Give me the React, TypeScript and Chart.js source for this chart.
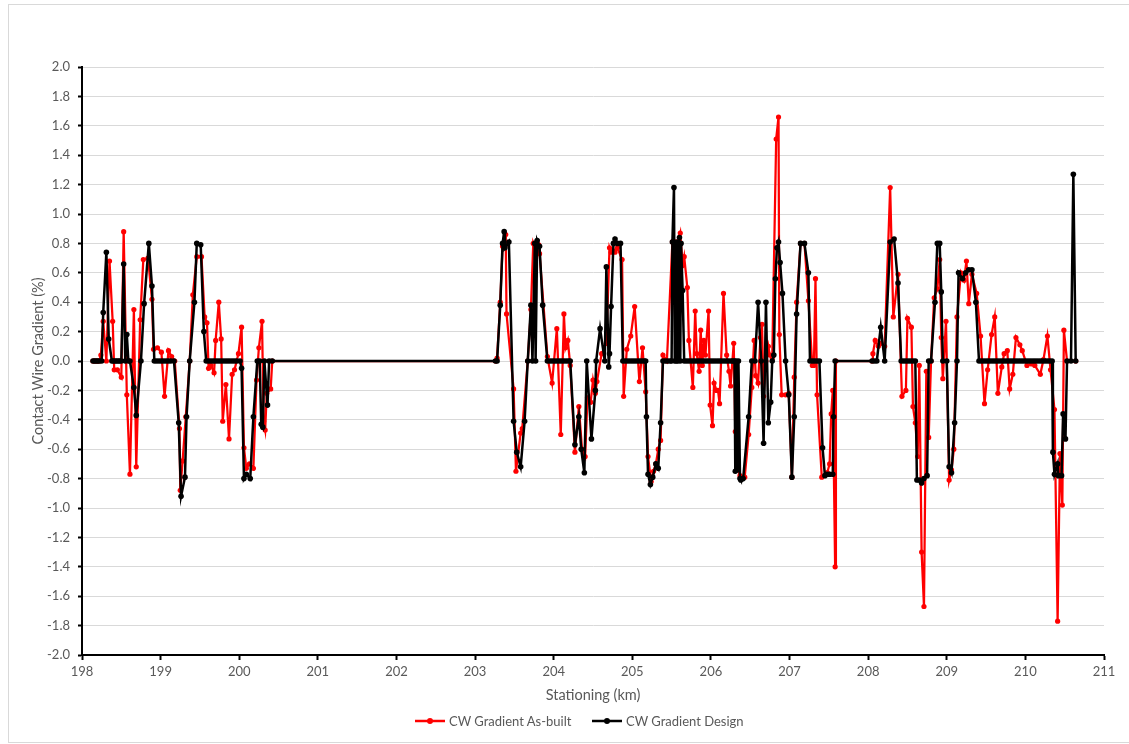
import React, { useEffect, useRef } from "react";
import { Chart, registerables } from "chart.js";

Chart.register(...registerables);

// ---- Data (km stationing, gradient %) ----
const asBuiltKm = [
  198.14, 198.16, 198.18, 198.20, 198.22, 198.24, 198.27, 198.31, 198.35, 198.39,
  198.41, 198.45, 198.50, 198.53, 198.57, 198.61, 198.66, 198.69, 198.74, 198.78,
  198.84, 198.89, 198.91, 198.96, 199.01, 199.05, 199.10, 199.14, 199.18, 199.24,
  199.25, 199.28, 199.32, 199.37, 199.41, 199.46, 199.52, 199.56, 199.59, 199.61,
  199.64, 199.68, 199.70, 199.74, 199.77, 199.79, 199.83, 199.87, 199.91, 199.94,
  199.99, 200.03, 200.06, 200.09, 200.13, 200.18, 200.22, 200.25, 200.29, 200.31,
  200.33, 200.35, 200.40, 200.42,
  203.26, 203.28, 203.32, 203.35, 203.38, 203.39, 203.40, 203.49, 203.52, 203.58,
  203.60, 203.67, 203.71, 203.74, 203.77, 203.81, 203.82, 203.92, 203.98, 204.04,
  204.09, 204.13, 204.15, 204.18, 204.21, 204.27, 204.32, 204.36, 204.40, 204.43,
  204.47, 204.50, 204.53, 204.55, 204.61, 204.67, 204.71, 204.73, 204.76, 204.78,
  204.81, 204.87, 204.89, 204.93, 204.98, 205.03, 205.09, 205.13, 205.17, 205.20,
  205.24, 205.27, 205.30, 205.33, 205.36, 205.39, 205.44, 205.51, 205.55, 205.57,
  205.61, 205.64, 205.66, 205.70, 205.72, 205.77, 205.80, 205.82, 205.85, 205.87,
  205.89, 205.91, 205.93, 205.97, 205.99, 206.02, 206.04, 206.07, 206.09, 206.11,
  206.16, 206.20, 206.23, 206.25, 206.29, 206.31, 206.33, 206.37, 206.43, 206.48,
  206.52, 206.55, 206.57, 206.60, 206.63, 206.65, 206.67, 206.70, 206.73, 206.75,
  206.78, 206.83, 206.86, 206.87, 206.90, 206.95, 206.99, 207.03, 207.06, 207.09,
  207.14, 207.19, 207.24, 207.29, 207.31, 207.33, 207.35, 207.41, 207.48, 207.51,
  207.53, 207.55, 207.58, 207.59,
  208.05, 208.06, 208.09, 208.13, 208.16, 208.21, 208.28, 208.32, 208.38, 208.43,
  208.48, 208.50, 208.55, 208.57, 208.60, 208.63, 208.65, 208.68, 208.71, 208.74,
  208.77, 208.80, 208.84, 208.88, 208.91, 208.93, 208.95, 208.99, 209.03, 209.06,
  209.09, 209.13, 209.18, 209.22, 209.25, 209.28, 209.32, 209.38, 209.43, 209.48,
  209.52, 209.57, 209.61, 209.65, 209.70, 209.73, 209.77, 209.80, 209.84, 209.88,
  209.93, 209.96, 210.02, 210.08, 210.12, 210.19, 210.23, 210.28, 210.32, 210.37,
  210.41, 210.44, 210.47, 210.49, 210.53, 210.64,
];
const asBuiltGrad = [
  0, 0, 0, 0, 0, 0.04, 0.27, 0, 0.68, 0.27,
  -0.06, -0.06, -0.11, 0.88, -0.23, -0.77, 0.35, -0.72, 0.28, 0.69,
  0.70, 0.42, 0.08, 0.09, 0.06, -0.24, 0.07, 0.03, 0, -0.46,
  -0.88, -0.68, -0.38, 0, 0.45, 0.71, 0.71, 0.30, 0.26, -0.05,
  -0.03, -0.08, 0.14, 0.40, 0.15, -0.41, -0.16, -0.53, -0.09, -0.06,
  0.05, 0.23, -0.59, -0.73, -0.70, -0.73, -0.13, 0.09, 0.27, -0.41,
  -0.47, -0.22, -0.19, 0,
  0, 0.02, 0.40, 0.78, 0.78, 0.86, 0.32, -0.19, -0.75, -0.49,
  -0.46, 0, 0.35, 0.80, 0.75, 0.79, 0.73, 0.03, -0.15, 0.22,
  -0.50, 0.32, 0.09, 0.14, -0.03, -0.62, -0.31, -0.60, -0.65, -0.25,
  -0.28, -0.13, -0.22, -0.14, 0.05, 0.12, 0.77, 0.74, 0.75, 0.74,
  0.77, 0.69, -0.24, 0.08, 0.17, 0.37, -0.14, 0.09, -0.21, -0.65,
  -0.82, -0.75, -0.70, -0.60, -0.54, 0.04, 0, 0.81, 0.81, 0.79,
  0.87, 0.65, 0.71, 0.50, 0.14, -0.18, 0.34, 0.05, -0.07, 0.21,
  -0.03, 0.14, 0.04, 0.34, -0.30, -0.44, -0.15, -0.20, -0.20, -0.29,
  0.46, 0.04, -0.07, -0.17, 0.12, -0.48, -0.72, -0.78, -0.79, -0.50,
  -0.18, 0.14, -0.10, -0.15, 0.16, 0.25, -0.24, 0, 0.10, 0.04,
  0.02, 1.51, 1.66, 0.18, -0.23, -0.23, -0.22, -0.79, -0.11, 0.40,
  0.80, 0.80, 0.41, -0.03, -0.03, 0.56, -0.23, -0.79, -0.76, -0.70,
  -0.36, -0.20, -1.40, 0,
  0, 0.05, 0.14, 0.10, 0.12, 0.10, 1.18, 0.30, 0.59, -0.24,
  -0.20, 0.29, 0.23, -0.31, -0.42, -0.65, -0.03, -1.30, -1.67, -0.07,
  -0.52, 0, 0.43, 0.49, 0.69, 0.16, -0.12, 0.27, -0.81, -0.74,
  -0.60, 0.30, 0.60, 0.55, 0.68, 0.39, 0.59, 0.46, 0.17, -0.29,
  -0.06, 0.18, 0.30, -0.22, -0.04, 0.05, 0.07, -0.19, -0.09, 0.16,
  0.11, 0.07, -0.03, -0.02, -0.03, -0.09, 0.01, 0.17, -0.06, -0.33,
  -1.77, -0.63, -0.98, 0.21, 0, 0,
];

const designKm = [
  198.14, 198.16, 198.18, 198.20, 198.22, 198.25, 198.27, 198.31, 198.34, 198.38,
  198.40, 198.42, 198.44, 198.46, 198.48, 198.50, 198.53, 198.55, 198.57, 198.59,
  198.61, 198.66, 198.69, 198.75, 198.79, 198.85, 198.89, 198.92, 198.95, 198.98,
  199.01, 199.04, 199.07, 199.10, 199.13, 199.17, 199.23, 199.26, 199.31, 199.33,
  199.37, 199.43, 199.46, 199.51, 199.55, 199.58, 199.61, 199.64, 199.67, 199.70,
  199.73, 199.76, 199.79, 199.82, 199.85, 199.88, 199.91, 199.94, 199.97, 200.01,
  200.03, 200.06, 200.09, 200.14, 200.18, 200.23, 200.26, 200.28, 200.30, 200.32,
  200.36, 200.38, 200.42,
  203.26, 203.28, 203.32, 203.35, 203.37, 203.38, 203.43, 203.49, 203.53, 203.58,
  203.63, 203.67, 203.71, 203.73, 203.76, 203.77, 203.79, 203.82, 203.86, 203.92,
  203.95, 203.98, 204.01, 204.04, 204.07, 204.10, 204.13, 204.16, 204.19, 204.21,
  204.27, 204.32, 204.35, 204.39, 204.42, 204.48, 204.53, 204.54, 204.59, 204.65,
  204.67, 204.70, 204.71, 204.73, 204.76, 204.78, 204.81, 204.85, 204.88, 204.91,
  204.94, 204.97, 205.00, 205.03, 205.06, 205.09, 205.12, 205.15, 205.17, 205.18,
  205.20, 205.23, 205.26, 205.30, 205.33, 205.36, 205.39, 205.42, 205.45, 205.48,
  205.50, 205.51, 205.53, 205.54, 205.55, 205.56, 205.57, 205.58, 205.60, 205.61,
  205.62, 205.64, 205.66, 205.69, 205.72, 205.75, 205.78, 205.81, 205.84, 205.87,
  205.90, 205.93, 205.96, 205.99, 206.02, 206.05, 206.08, 206.11, 206.14, 206.17,
  206.20, 206.23, 206.26, 206.28, 206.30, 206.31, 206.32, 206.34, 206.35, 206.37,
  206.38, 206.41, 206.48, 206.52, 206.56, 206.60, 206.64, 206.67, 206.70, 206.73,
  206.76, 206.78, 206.80, 206.82, 206.84, 206.86, 206.88, 206.91, 206.95, 206.99,
  207.03, 207.06, 207.09, 207.14, 207.19, 207.24, 207.26, 207.29, 207.32, 207.35,
  207.38, 207.42, 207.45, 207.48, 207.51, 207.55, 207.56, 207.58,
  208.05, 208.08, 208.11, 208.16, 208.21, 208.28, 208.33, 208.38, 208.42, 208.45,
  208.48, 208.51, 208.54, 208.57, 208.60, 208.62, 208.65, 208.68, 208.71, 208.75,
  208.77, 208.80, 208.85, 208.88, 208.91, 208.93, 208.95, 209.00, 209.03, 209.06,
  209.10, 209.13, 209.15, 209.20, 209.24, 209.28, 209.32, 209.37, 209.41, 209.44,
  209.47, 209.50, 209.53, 209.56, 209.59, 209.62, 209.65, 209.68, 209.71, 209.74,
  209.77, 209.80, 209.83, 209.86, 209.89, 209.92, 209.95, 209.98, 210.01, 210.04,
  210.07, 210.10, 210.13, 210.16, 210.19, 210.22, 210.25, 210.28, 210.31, 210.34,
  210.35, 210.37, 210.41, 210.42, 210.46, 210.48, 210.51, 210.53, 210.58, 210.61,
  210.64,
];
const designGrad = [
  0, 0, 0, 0, 0, 0, 0.33, 0.74, 0.15, 0,
  0, 0, 0, 0, 0, 0, 0.66, 0, 0.18, 0,
  0, -0.18, -0.37, 0, 0.39, 0.80, 0.51, 0, 0, 0,
  0, 0, 0, 0, 0, 0, -0.42, -0.92, -0.79, -0.38,
  0, 0.40, 0.80, 0.79, 0.20, 0, 0, 0, 0, 0,
  0, 0, 0, 0, 0, 0, 0, 0, 0, 0,
  -0.05, -0.80, -0.77, -0.80, -0.38, 0, 0, -0.43, -0.45, 0,
  -0.30, 0, 0,
  0, 0, 0.38, 0.80, 0.88, 0.77, 0.81, -0.41, -0.62, -0.72,
  -0.41, 0, 0.38, 0, 0.80, 0, 0.82, 0.78, 0.38, 0,
  0, 0, 0, 0, 0, 0, 0, 0, 0, 0,
  -0.57, -0.38, -0.60, -0.76, 0, -0.53, -0.20, 0, 0.22, 0,
  0.64, -0.04, 0.05, 0.37, 0.80, 0.83, 0.80, 0.80, 0, 0,
  0, 0, 0, 0, 0, 0, 0, 0, 0, -0.38,
  -0.77, -0.84, -0.79, -0.70, -0.73, -0.42, 0, 0, 0, 0,
  0, 0.81, 1.18, 0, 0.78, 0, 0.81, 0, 0.84, 0,
  0.80, 0.48, 0, 0, 0, 0, 0, 0, 0, 0,
  0, 0, 0, 0, 0, 0, 0, 0, 0, 0,
  0, 0, 0, 0, 0, -0.75, 0, -0.74, 0, -0.80,
  -0.81, -0.80, -0.38, 0, 0, 0.40, 0, -0.56, 0.40, -0.42,
  -0.28, 0, 0.04, 0.56, 0.77, 0.81, 0.67, 0.46, 0, -0.23,
  -0.79, -0.38, 0.32, 0.80, 0.80, 0.60, 0, 0, 0, 0,
  0, -0.59, -0.78, -0.77, -0.77, -0.77, -0.38, 0,
  0, 0, 0, 0.23, 0, 0.81, 0.83, 0.53, 0, 0,
  0, 0, 0, 0, 0, -0.81, -0.81, -0.83, -0.80, -0.78,
  0, 0, 0.40, 0.80, 0.80, 0.47, 0, 0, -0.72, -0.76,
  -0.42, 0, 0.60, 0.56, 0.60, 0.62, 0.62, 0.40, 0, 0,
  0, 0, 0, 0, 0, 0, 0, 0, 0, 0,
  0, 0, 0, 0, 0, 0, 0, 0, 0, 0,
  0, 0, 0, 0, 0, 0, 0, 0, 0, 0,
  -0.62, -0.77, -0.70, -0.78, -0.78, -0.36, -0.53, 0, 0, 1.27,
  0,
];

const seriesNames = ["CW Gradient As-built", "CW Gradient Design"];
const seriesColors = ["#FF0000", "#000000"];
const xMin = 198;
const xMax = 211;
const yMin = -2;
const yMax = 2;
const yStep = 0.2;
const xTitle = "Stationing (km)";
const yTitle = "Contact Wire Gradient (%)";

const FONT = "Lato, 'Open Sans', 'Liberation Sans', sans-serif";
const TEXT = "#595959";

const toPoints = (xs: number[], ys: number[]) => xs.map((x, i) => ({ x, y: ys[i] }));

const frame = {
  id: "frame",
  beforeDraw(chart: any) {
    const { ctx } = chart;
    ctx.save();
    ctx.fillStyle = "#ffffff";
    ctx.fillRect(0, 0, chart.width, chart.height);
    ctx.strokeStyle = "#d9d9d9";
    ctx.lineWidth = 1;
    ctx.strokeRect(8.5, 4.5, 1125, 738);
    ctx.restore();
  },
};

export default function App() {
  const ref = useRef<HTMLCanvasElement | null>(null);

  useEffect(() => {
    if (!ref.current) return;
    const chart = new Chart(ref.current, {
      type: "line",
      data: {
        datasets: [
          {
            label: seriesNames[0],
            data: toPoints(asBuiltKm, asBuiltGrad),
            borderColor: seriesColors[0],
            backgroundColor: seriesColors[0],
            borderWidth: 2.25,
            pointRadius: 2.6,
            pointBorderWidth: 0,
            pointBackgroundColor: seriesColors[0],
            tension: 0,
            order: 2,
          },
          {
            label: seriesNames[1],
            data: toPoints(designKm, designGrad),
            borderColor: seriesColors[1],
            backgroundColor: seriesColors[1],
            borderWidth: 2.5,
            pointRadius: 2.8,
            pointBorderWidth: 0,
            pointBackgroundColor: seriesColors[1],
            tension: 0,
            order: 1,
          },
        ],
      },
      options: {
        animation: false,
        responsive: false,
        maintainAspectRatio: false,
        devicePixelRatio: 1,
        layout: { padding: { left: 0, top: 67, right: 25, bottom: 39 } },
        plugins: {
          legend: { display: false },
          tooltip: { enabled: false },
        },
        scales: {
          x: {
            type: "linear",
            min: xMin,
            max: xMax,
            afterFit: (s: any) => {
              s.height = 50;
            },
            ticks: {
              stepSize: 1,
              color: TEXT,
              font: { family: FONT, size: 13 },
              padding: 4,
              maxRotation: 0,
              callback: (v: any) => String(v),
            },
            grid: {
              drawOnChartArea: false,
              drawTicks: true,
              tickLength: 5,
              tickColor: "#000",
              tickWidth: 2,
            },
            border: { color: "#000", width: 2 },
            title: {
              display: true,
              text: xTitle,
              color: TEXT,
              font: { family: FONT, size: 14.5 },
              padding: { top: 2, bottom: 1 },
            },
          },
          y: {
            type: "linear",
            min: yMin,
            max: yMax,
            afterFit: (s: any) => {
              s.width = 82;
            },
            ticks: {
              stepSize: yStep,
              color: TEXT,
              font: { family: FONT, size: 13 },
              padding: 8,
              callback: (v: any) => (Math.abs(v) < 1e-9 ? "0.0" : Number(v).toFixed(1)),
            },
            grid: {
              color: "#d9d9d9",
              lineWidth: 1,
              drawTicks: true,
              tickLength: 4,
              tickColor: "#000",
              tickWidth: 2,
            },
            border: { color: "#000", width: 2 },
            title: {
              display: true,
              text: yTitle,
              color: TEXT,
              font: { family: FONT, size: 14.5 },
              padding: { top: 30, bottom: 0 },
            },
          },
        },
      },
      plugins: [frame],
    });
    return () => chart.destroy();
  }, []);

  const legendItem = (i: number, left: number) => (
    <div
      key={i}
      style={{
        position: "absolute",
        left,
        top: 712,
        height: 18,
        display: "flex",
        alignItems: "center",
        fontFamily: FONT,
        fontSize: 13,
        color: TEXT,
        whiteSpace: "nowrap",
      }}
    >
      <svg width={30} height={10} style={{ marginRight: 4 }}>
        <line x1={0} y1={5} x2={30} y2={5} stroke={seriesColors[i]} strokeWidth={2.5} />
        <circle cx={15} cy={5} r={3} fill={seriesColors[i]} />
      </svg>
      <span>{seriesNames[i]}</span>
    </div>
  );

  return (
    <div style={{ position: "fixed", left: 0, top: 0, width: 1129, height: 744, background: "#fff" }}>
      <canvas ref={ref} width={1129} height={744} style={{ display: "block", width: 1129, height: 744 }} />
      {legendItem(0, 415)}
      {legendItem(1, 592)}
    </div>
  );
}
